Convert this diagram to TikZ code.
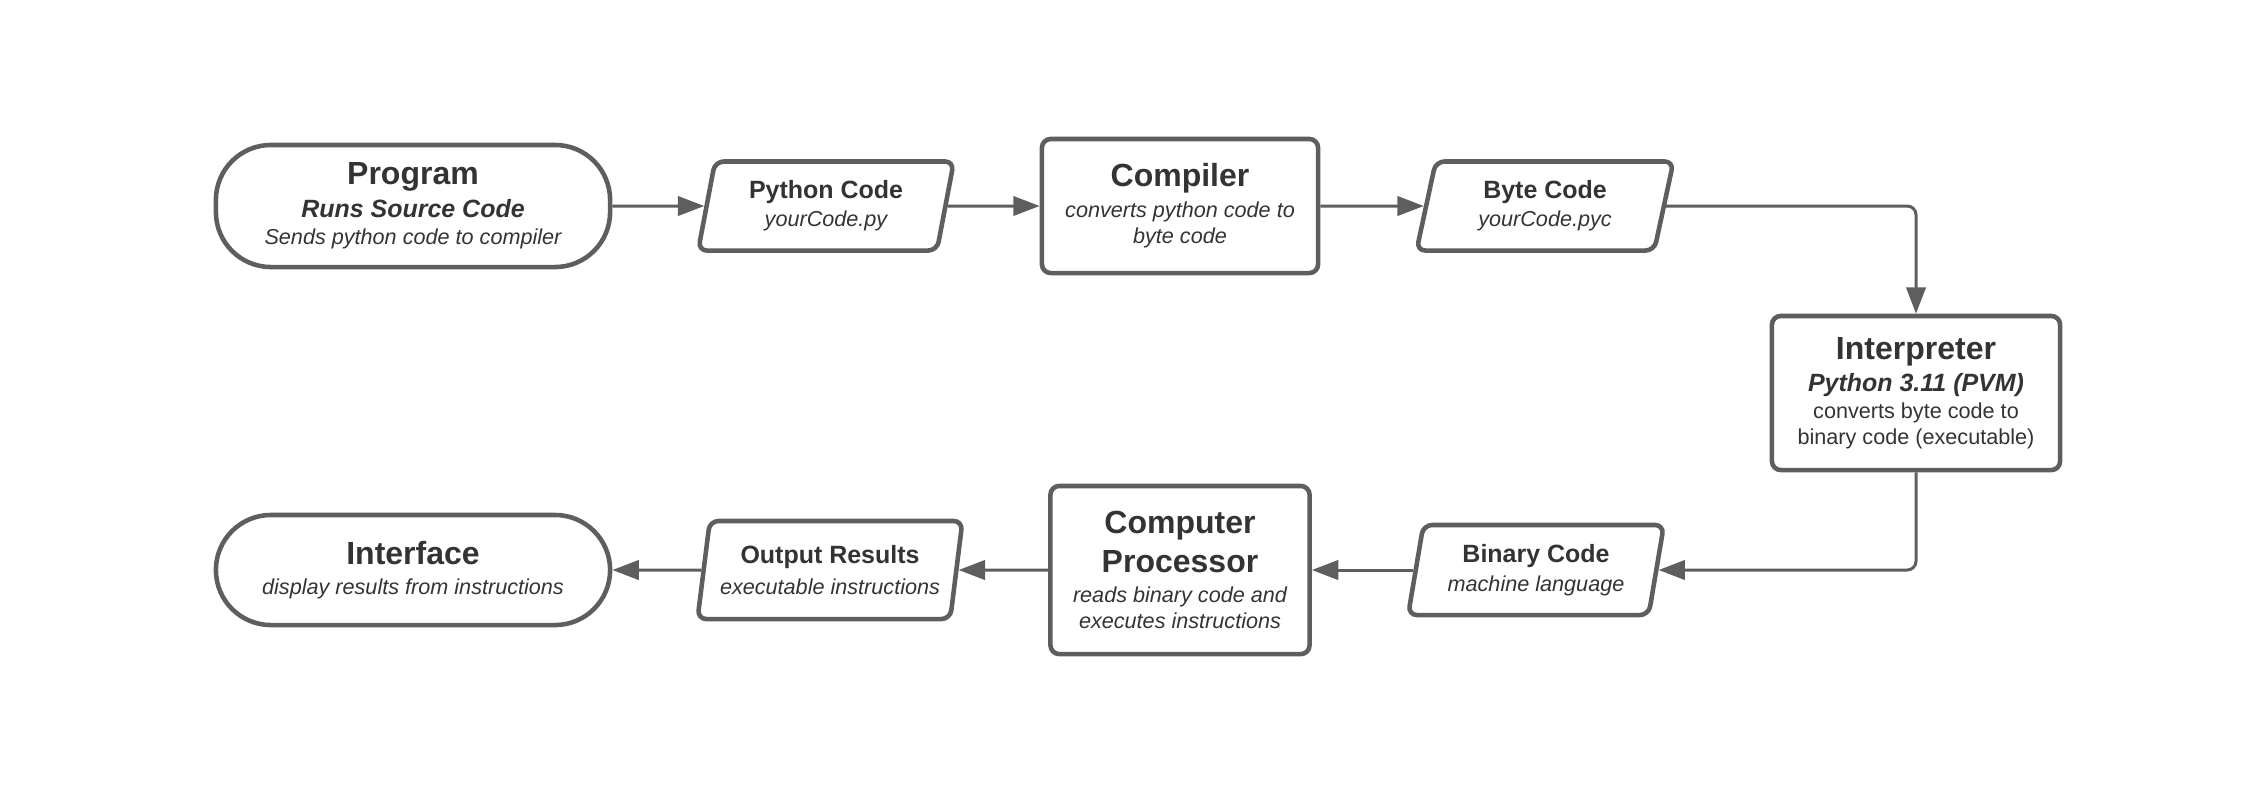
\documentclass[tikz,border=0pt]{standalone}
\usepackage{fontspec}
\setmainfont{Liberation Sans}
\usepackage{tikz}
\usetikzlibrary{shapes.geometric}
\usetikzlibrary{arrows.meta}
\definecolor{ColLine}{RGB}{94,94,94}
\definecolor{ColText}{RGB}{51,51,51}
\newcommand{\TitleTxt}[1]{{\fontsize{9.1}{10.5}\selectfont\bfseries #1}}
\newcommand{\SubTxt}[1]{{\fontsize{7.1}{8.5}\selectfont\bfseries\itshape #1}}
\newcommand{\NameTxt}[1]{{\fontsize{7.1}{8.5}\selectfont\bfseries #1}}
\newcommand{\DescTxt}[1]{{\fontsize{6.15}{7.4}\selectfont\itshape #1}}
\newcommand{\PlainTxt}[1]{{\fontsize{6.15}{7.4}\selectfont #1}}
\tikzstyle{BaseNode}=[draw=ColLine,line width=1.3pt,text=ColText,align=center,inner sep=0pt,
font=\fontsize{6.15}{7.4}\selectfont]
\tikzstyle{Terminal}=[BaseNode,rectangle,rounded corners=0.55cm]
\tikzstyle{DataNode}=[BaseNode,trapezium,trapezium left angle=77,trapezium right angle=103,
trapezium stretches=true,rounded corners=2.5pt]
\tikzstyle{ProcessNode}=[BaseNode,rectangle,rounded corners=2.5pt]
\tikzstyle{FlowEdge}=[ColLine,line width=0.85pt,rounded corners=2.5pt,
-{Triangle[length=7.5pt,width=5.5pt]}]

\begin{document}
\begin{tikzpicture}[x=0.01cm,y=-0.01cm]
        \useasboundingbox(0,0)rectangle(2257,808);
        % upper row
        \node[Terminal,minimum width=3.94cm,minimum height=1.22cm](prog)at(413,206)
            {\TitleTxt{Program}\\[2pt]\SubTxt{Runs Source Code}\\[0.3pt]\DescTxt{Sends python code to compiler}};
        \node[DataNode,minimum width=2.56cm,minimum height=0.89cm](pycode)at(826,206)
            {\NameTxt{Python Code}\\[0.6pt]\DescTxt{yourCode.py}};
        \node[ProcessNode,minimum width=2.76cm,minimum height=1.34cm](comp)at(1180,206)
            {\TitleTxt{Compiler}\\[1.4pt]\DescTxt{converts python code to}\\\DescTxt{byte code}};
        \node[DataNode,minimum width=2.57cm,minimum height=0.89cm](byte)at(1545,206)
            {\NameTxt{Byte Code}\\[0.6pt]\DescTxt{yourCode.pyc}};
        \node[ProcessNode,minimum width=2.88cm,minimum height=1.54cm](interp)at(1916,393)
            {\TitleTxt{Interpreter}\\[1.8pt]\SubTxt{Python 3.11 (PVM)}\\[0.3pt]\PlainTxt{converts byte code to}\\\PlainTxt{binary code (executable)}};
        % lower row
        \node[DataNode,minimum width=2.56cm,minimum height=0.90cm](binary)at(1536,570)
            {\NameTxt{Binary Code}\\[0.9pt]\DescTxt{machine language}};
        \node[ProcessNode,minimum width=2.59cm,minimum height=1.68cm](proc)at(1180,570)
            {\TitleTxt{Computer}\\[1.8pt]\TitleTxt{Processor}\\[1.2pt]\DescTxt{reads binary code and}\\\DescTxt{executes instructions}};
        \node[DataNode,minimum width=2.65cm,minimum height=0.98cm](output)at(830,570)
            {\NameTxt{Output Results}\\[1.2pt]\DescTxt{executable instructions}};
        \node[Terminal,minimum width=3.94cm,minimum height=1.10cm](iface)at(413,570)
            {\TitleTxt{Interface}\\[1.3pt]\DescTxt{display results from instructions}};
        % connectors
        \draw[FlowEdge](prog)--(pycode);
        \draw[FlowEdge](pycode)--(comp);
        \draw[FlowEdge](comp)--(byte);
        \draw[FlowEdge](byte)-|(interp);
        \draw[FlowEdge](interp)|-(binary);
        \draw[FlowEdge](binary)--(proc);
        \draw[FlowEdge](proc)--(output);
        \draw[FlowEdge](output)--(iface);
    \end{tikzpicture}
\end{document}
